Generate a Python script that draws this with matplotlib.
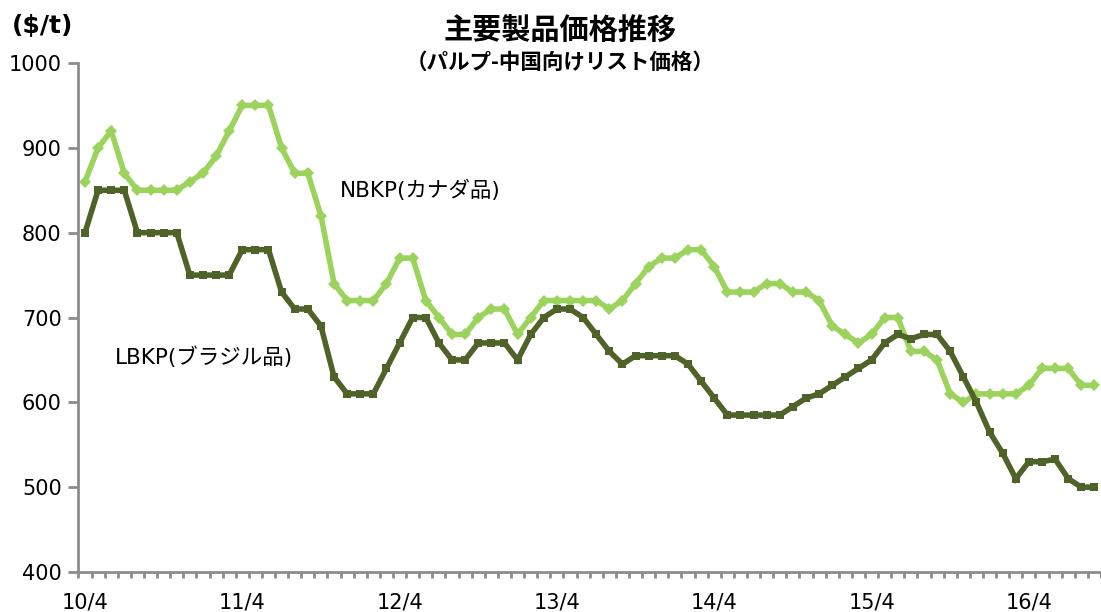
import numpy as np
import matplotlib
matplotlib.use("Agg")
import matplotlib.pyplot as plt
from matplotlib.ticker import FixedLocator, NullFormatter

plt.rcParams['font.family'] = ['DejaVu Sans', 'Noto Sans CJK JP']

# 月次データ (2010/4 〜 2016/9)
nbkp = [860, 900, 920, 870, 850, 850, 850, 850, 860, 870, 890, 920,
        950, 950, 950, 900, 870, 870, 820, 740, 720, 720, 720, 740,
        770, 770, 720, 700, 680, 680, 700, 710, 710, 680, 700, 720,
        720, 720, 720, 720, 710, 720, 740, 760, 770, 770, 780, 780,
        760, 730, 730, 730, 740, 740, 730, 730, 720, 690, 680, 670,
        680, 700, 700, 660, 660, 650, 610, 600, 610, 610, 610, 610,
        620, 640, 640, 640, 620, 620]
lbkp = [800, 850, 850, 850, 800, 800, 800, 800, 750, 750, 750, 750,
        780, 780, 780, 730, 710, 710, 690, 630, 610, 610, 610, 640,
        670, 700, 700, 670, 650, 650, 670, 670, 670, 650, 680, 700,
        710, 710, 700, 680, 660, 645, 655, 655, 655, 655, 645, 625,
        605, 585, 585, 585, 585, 585, 595, 605, 610, 620, 630, 640,
        650, 670, 680, 675, 680, 680, 660, 630, 600, 565, 540, 510,
        530, 530, 533, 510, 500, 500]
year_labels = ['10/4', '11/4', '12/4', '13/4', '14/4', '15/4', '16/4']

light_green = '#9BD35C'
dark_green = '#4F6228'
axis_gray = '#8C8C8C'

W, H = 1101, 612
x = np.arange(len(nbkp))

fig = plt.figure(figsize=(W / 100, H / 100), dpi=100)
ax = fig.add_axes([78.4 / W, 40 / H, 1022.6 / W, 509 / H])

ax.plot(x, nbkp, color=light_green, linewidth=4, marker='D', markersize=6.5,
        markeredgewidth=0, solid_joinstyle='miter')
ax.plot(x, lbkp, color=dark_green, linewidth=4, marker='s', markersize=5.5,
        markeredgewidth=0, solid_joinstyle='miter')

ax.set_xlim(-0.5, len(nbkp) - 0.5)
ax.set_ylim(400, 1000)

# 軸まわり
for s in ['top', 'right']:
    ax.spines[s].set_visible(False)
for s in ['left', 'bottom']:
    ax.spines[s].set_color(axis_gray)
    ax.spines[s].set_linewidth(2)

ax.set_yticks(np.arange(400, 1001, 100))
ax.tick_params(axis='y', direction='out', length=7, width=2, color=axis_gray,
               labelsize=15, pad=5)

ax.xaxis.set_major_locator(FixedLocator(np.arange(0, len(nbkp), 12)))
ax.set_xticklabels(year_labels)
ax.xaxis.set_minor_locator(FixedLocator(np.arange(-0.5, len(nbkp), 1)))
ax.xaxis.set_minor_formatter(NullFormatter())
ax.tick_params(axis='x', which='major', length=0, labelsize=15, pad=15)
ax.tick_params(axis='x', which='minor', direction='out', length=4, width=2,
               color=axis_gray)

# テキスト
fig.text(560 / W, 1 - 31 / H, '主要製品価格推移', ha='center', va='center',
         fontsize=21, fontweight='bold', family=['Noto Sans CJK JP'])
fig.text(560 / W, 1 - 62 / H, '（パルプ-中国向けリスト価格）', ha='center',
         va='center', fontsize=15.5, fontweight='bold', family=['Noto Sans CJK JP'])
fig.text(12 / W, 1 - 26 / H, '($/t)', ha='left', va='center',
         fontsize=18, fontweight='bold')

fig.text(340 / W, 1 - 190 / H, 'NBKP(カナダ品)', ha='left', va='center',
         fontsize=15.5)
fig.text(115 / W, 1 - 357 / H, 'LBKP(ブラジル品)', ha='left', va='center',
         fontsize=15.5)

plt.savefig('out.png', dpi=100)
plt.close()
